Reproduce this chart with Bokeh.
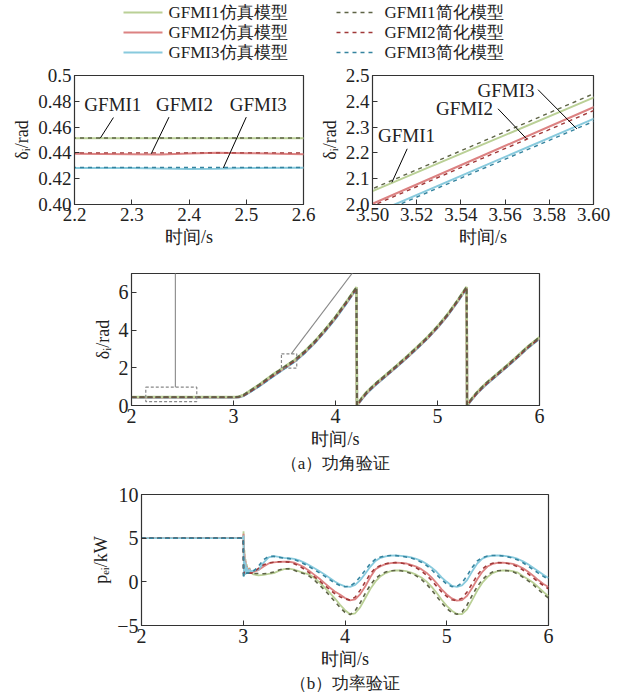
from bokeh.plotting import figure
from bokeh.models import Range1d, FixedTicker, Arrow, Title
from bokeh.layouts import column, row
from bokeh.embed import file_html
from bokeh.resources import INLINE
from bokeh.core.properties import value

FONT = "Liberation Serif"

# ---------------- data: power angle (rad) ----------------
t_delta = [2.0, 2.2, 2.3, 2.35, 2.4, 2.45, 2.5, 2.6, 2.8, 3.0,
           3.05, 3.1, 3.15, 3.2, 3.25, 3.3, 3.35, 3.4, 3.45, 3.5, 3.55, 3.6,
           3.7, 3.8, 3.9, 4.0, 4.1, 4.2, 4.205,
           4.21, 4.25, 4.3, 4.35, 4.4, 4.5, 4.6, 4.7, 4.8, 4.9, 5.0, 5.1, 5.2, 5.28, 5.285,
           5.29, 5.33, 5.38, 5.43, 5.48, 5.58, 5.68, 5.78, 5.88, 6.0]
d1_sim = [0.4514, 0.4514, 0.4514, 0.4514, 0.4513, 0.4514, 0.4514, 0.4514, 0.4514, 0.4514,
          0.46, 0.56, 0.74, 0.92, 1.10, 1.30, 1.50, 1.69, 1.87, 2.052, 2.233, 2.414,
          2.88, 3.42, 4.04, 4.70, 5.45, 6.22, 6.28,
          0.02, 0.35, 0.68, 0.95, 1.20, 1.66, 2.12, 2.60, 3.10, 3.62, 4.20, 4.85, 5.60, 6.25, 6.28,
          0.02, 0.33, 0.66, 0.94, 1.20, 1.66, 2.12, 2.60, 3.10, 3.62]
d2_sim = [0.4393, 0.4393, 0.4390, 0.4388, 0.4395, 0.4402, 0.4398, 0.4390, 0.4395, 0.4395,
          0.45, 0.54, 0.71, 0.88, 1.06, 1.25, 1.45, 1.64, 1.82, 2.003, 2.19, 2.377,
          2.84, 3.38, 4.00, 4.66, 5.41, 6.18, 6.26,
          0.0, 0.31, 0.64, 0.91, 1.16, 1.62, 2.08, 2.56, 3.06, 3.58, 4.16, 4.81, 5.56, 6.21, 6.27,
          0.0, 0.30, 0.62, 0.90, 1.16, 1.62, 2.08, 2.56, 3.06, 3.58]
d3_sim = [0.4283, 0.4283, 0.4283, 0.4280, 0.4276, 0.4278, 0.4283, 0.4285, 0.4285, 0.4285,
          0.44, 0.52, 0.68, 0.85, 1.02, 1.21, 1.41, 1.60, 1.78, 1.963, 2.148, 2.332,
          2.80, 3.34, 3.96, 4.62, 5.37, 6.15, 6.25,
          0.0, 0.28, 0.61, 0.88, 1.13, 1.59, 2.05, 2.53, 3.03, 3.55, 4.13, 4.78, 5.53, 6.18, 6.26,
          0.0, 0.27, 0.60, 0.87, 1.13, 1.59, 2.05, 2.53, 3.03, 3.55]
d1_simp = [0.4516, 0.4516, 0.4516, 0.4516, 0.4516, 0.4516, 0.4516, 0.4516, 0.4516, 0.4516,
           0.47, 0.57, 0.75, 0.93, 1.11, 1.31, 1.51, 1.70, 1.88, 2.061, 2.245, 2.429,
           2.90, 3.44, 4.06, 4.72, 5.47, 6.24, 6.28,
           0.03, 0.36, 0.69, 0.96, 1.21, 1.67, 2.13, 2.61, 3.11, 3.63, 4.21, 4.86, 5.62, 6.26, 6.28,
           0.03, 0.34, 0.67, 0.95, 1.21, 1.67, 2.13, 2.61, 3.11, 3.63]
d2_simp = [0.4400, 0.4400, 0.4400, 0.4400, 0.4400, 0.4400, 0.4400, 0.4400, 0.4400, 0.4400,
           0.45, 0.53, 0.70, 0.87, 1.05, 1.24, 1.44, 1.63, 1.81, 1.995, 2.18, 2.364,
           2.83, 3.37, 3.99, 4.65, 5.40, 6.17, 6.26,
           0.0, 0.30, 0.63, 0.90, 1.15, 1.61, 2.07, 2.55, 3.05, 3.57, 4.15, 4.80, 5.55, 6.20, 6.27,
           0.0, 0.29, 0.61, 0.89, 1.15, 1.61, 2.07, 2.55, 3.05, 3.57]
d3_simp = [0.4287, 0.4287, 0.4287, 0.4287, 0.4287, 0.4287, 0.4287, 0.4287, 0.4287, 0.4287,
           0.44, 0.51, 0.67, 0.84, 1.01, 1.20, 1.40, 1.59, 1.77, 1.955, 2.139, 2.322,
           2.79, 3.33, 3.95, 4.61, 5.36, 6.14, 6.25,
           0.0, 0.27, 0.60, 0.87, 1.12, 1.58, 2.04, 2.52, 3.02, 3.54, 4.12, 4.77, 5.52, 6.17, 6.26,
           0.0, 0.26, 0.59, 0.86, 1.12, 1.58, 2.04, 2.52, 3.02, 3.54]

# ---------------- data: electrical power (kW) ----------------
t_p = [2.0, 2.99, 3.0, 3.003, 3.007, 3.012, 3.017, 3.022, 3.028, 3.035, 3.045, 3.06, 3.08,
       3.10, 3.15, 3.20, 3.25, 3.30, 3.35, 3.40, 3.45, 3.50, 3.55, 3.60, 3.65, 3.70, 3.75,
       3.80, 3.85, 3.90, 3.95, 4.00, 4.05, 4.10, 4.15, 4.20, 4.25, 4.30, 4.35, 4.40, 4.45,
       4.50, 4.55, 4.60, 4.65, 4.70, 4.75, 4.80, 4.85, 4.90, 4.95, 5.00, 5.05, 5.10, 5.15,
       5.20, 5.25, 5.30, 5.35, 5.40, 5.45, 5.50, 5.55, 5.60, 5.65, 5.70, 5.75, 5.80, 5.85,
       5.90, 5.95, 6.00]
p1_sim = [5.0, 5.0, 5.0, 5.8, 2.0, 3.6, 1.0, 2.6, 0.9, 2.0, 1.0, 1.6, 1.0,
          0.85, 0.75, 0.80, 0.90, 1.00, 1.25, 1.45, 1.50, 1.40, 1.20, 1.00, 0.85, 0.45, -0.10,
          -0.65, -1.25, -1.90, -2.60, -3.25, -3.72, -3.60, -2.90, -1.85, -0.80, 0.05, 0.65, 1.00, 1.22,
          1.30, 1.30, 1.22, 1.05, 0.82, 0.50, 0.05, -0.55, -1.25, -2.05, -2.75, -3.30, -3.68, -3.70,
          -3.15, -2.10, -1.00, -0.10, 0.55, 1.00, 1.22, 1.30, 1.30, 1.22, 1.05, 0.65, 0.30, -0.10,
          -0.60, -1.15, -1.65]
p2_sim = [5.0, 5.0, 5.0, 5.5, 1.8, 3.2, 1.2, 2.4, 1.0, 1.8, 1.1, 1.5, 1.1,
          1.15, 1.35, 1.75, 2.10, 2.22, 2.28, 2.30, 2.30, 2.20, 1.95, 1.65, 1.25, 0.80, 0.35,
          -0.15, -0.65, -1.10, -1.45, -1.85, -2.12, -2.00, -1.40, -0.50, 0.55, 1.45, 1.80, 2.02, 2.15,
          2.20, 2.18, 2.10, 1.95, 1.75, 1.45, 1.05, 0.50, -0.15, -0.85, -1.45, -1.90, -2.15, -2.10,
          -1.60, -0.70, 0.30, 1.15, 1.75, 2.05, 2.18, 2.20, 2.15, 2.05, 1.85, 1.55, 1.15, 0.70,
          0.20, -0.25, -0.60]
p3_sim = [5.0, 5.0, 5.0, 5.3, 0.6, 2.8, 0.8, 2.2, 1.0, 1.7, 1.0, 1.4, 1.2,
          1.30, 1.40, 2.20, 2.80, 2.95, 2.85, 2.75, 2.70, 2.62, 2.45, 2.20, 1.90, 1.55, 1.20,
          0.85, 0.45, 0.05, -0.30, -0.52, -0.58, -0.35, 0.20, 0.95, 1.75, 2.40, 2.75, 2.92, 3.00,
          3.02, 2.98, 2.90, 2.80, 2.62, 2.40, 2.08, 1.65, 1.15, 0.50, 0.00, -0.45, -0.58, -0.40,
          0.20, 1.20, 2.10, 2.65, 2.90, 3.00, 3.03, 3.00, 2.92, 2.80, 2.62, 2.35, 2.00, 1.60,
          1.20, 0.80, 0.45]
p1_simp = [5.0, 5.0, 5.0, 0.7, 0.8, 1.0, 1.0, 1.0, 1.0, 1.0, 1.0, 1.0, 0.98,
           0.95, 0.95, 0.92, 0.98, 1.12, 1.35, 1.50, 1.48, 1.32, 1.10, 0.92, 0.65, 0.18, -0.38,
           -0.95, -1.58, -2.25, -2.92, -3.50, -3.75, -3.30, -2.40, -1.30, -0.35, 0.38, 0.85, 1.12, 1.27,
           1.30, 1.27, 1.15, 0.95, 0.68, 0.28, -0.25, -0.90, -1.65, -2.40, -3.05, -3.52, -3.72, -3.45,
           -2.65, -1.55, -0.55, 0.25, 0.80, 1.12, 1.27, 1.30, 1.27, 1.15, 0.90, 0.52, 0.12, -0.32,
           -0.88, -1.40, -1.85]
p2_simp = [5.0, 5.0, 5.0, 0.9, 1.0, 1.1, 1.1, 1.1, 1.1, 1.1, 1.05, 1.0, 1.0,
           1.05, 1.55, 1.95, 2.18, 2.25, 2.30, 2.30, 2.26, 2.08, 1.80, 1.45, 1.02, 0.58, 0.10,
           -0.40, -0.90, -1.35, -1.70, -1.95, -2.10, -1.75, -0.95, 0.00, 0.95, 1.60, 1.88, 2.08, 2.18,
           2.20, 2.15, 2.03, 1.85, 1.60, 1.25, 0.78, 0.18, -0.50, -1.15, -1.68, -2.05, -2.15, -1.88,
           -1.15, -0.20, 0.75, 1.48, 1.92, 2.12, 2.20, 2.18, 2.10, 1.95, 1.70, 1.35, 0.92, 0.45,
           -0.02, -0.42, -0.80]
p3_simp = [5.0, 5.0, 5.0, 0.6, 0.7, 0.8, 0.85, 0.9, 0.95, 1.0, 1.0, 1.05, 1.1,
           1.20, 1.80, 2.55, 2.90, 2.92, 2.80, 2.72, 2.66, 2.55, 2.33, 2.05, 1.72, 1.38, 1.02,
           0.65, 0.25, -0.13, -0.42, -0.57, -0.50, -0.08, 0.58, 1.35, 2.10, 2.60, 2.85, 2.97, 3.02,
           3.00, 2.94, 2.85, 2.72, 2.52, 2.25, 1.88, 1.40, 0.82, 0.25, -0.25, -0.55, -0.52, -0.10,
           0.70, 1.65, 2.40, 2.78, 2.95, 3.02, 3.02, 2.96, 2.86, 2.72, 2.50, 2.18, 1.80, 1.40,
           1.00, 0.62, 0.30]

# ---------------- labels / ticks ----------------
sim_names = ["GFMI1仿真模型", "GFMI2仿真模型", "GFMI3仿真模型"]
simp_names = ["GFMI1简化模型", "GFMI2简化模型", "GFMI3简化模型"]
tag_names = ["GFMI1", "GFMI2", "GFMI3"]

tl_xticks = [2.2, 2.3, 2.4, 2.5, 2.6]
tl_xlabels = ["2.2", "2.3", "2.4", "2.5", "2.6"]
tl_yticks = [0.40, 0.42, 0.44, 0.46, 0.48, 0.50]
tl_ylabels = ["0.40", "0.42", "0.44", "0.46", "0.48", "0.5"]
tr_xticks = [3.50, 3.52, 3.54, 3.56, 3.58, 3.60]
tr_xlabels = ["3.50", "3.52", "3.54", "3.56", "3.58", "3.60"]
tr_yticks = [2.0, 2.1, 2.2, 2.3, 2.4, 2.5]
tr_ylabels = ["2.0", "2.1", "2.2", "2.3", "2.4", "2.5"]
m_xticks = [2, 3, 4, 5, 6]
m_xlabels = ["2", "3", "4", "5", "6"]
m_yticks = [0, 2, 4, 6]
m_ylabels = ["0", "2", "4", "6"]
b_yticks = [-5, 0, 5, 10]
b_ylabels = ["\u22125", "0", "5", "10"]

# annotation tags in insets (label x, label y, leader x0, y0, x1, y1)
tl_tag_x = [2.267, 2.392, 2.521]
tl_tag_y = [0.4779, 0.4779, 0.4779]
tl_lead_x0 = [2.245, 2.334, 2.460]
tl_lead_y0 = [0.4514, 0.4393, 0.4284]
tl_lead_x1 = [2.268, 2.365, 2.500]
tl_lead_y1 = [0.4674, 0.4677, 0.4677]
tr_tag_x = [3.5154, 3.5416, 3.5604]
tr_tag_y = [2.267, 2.371, 2.442]
tr_lead_x0 = [3.5088, 3.5697, 3.5925]
tr_lead_y0 = [2.086, 2.255, 2.293]
tr_lead_x1 = [3.5157, 3.5568, 3.5749]
tr_lead_y1 = [2.216, 2.371, 2.445]

# zoom boxes in main plot and connector ends
box_left = [2.14, 3.47]
box_right = [2.64, 3.62]
box_bottom = [0.21, 1.98]
box_top = [0.97, 2.74]
conn_x0 = [2.43, 3.566]
conn_y0 = [0.97, 2.74]
conn_x1 = [2.43, 4.31]
conn_y1 = [8.1, 8.06]

SIM_COL = ["#bad096", "#dc8282", "#88cadd"]
SIMP_COL = ["#5e6446", "#a13838", "#35849f"]

# legend strip layout (pixel positions inside the strip)
LEG_ROW_Y = [12, 32, 52]
LEG_SIM_X = (123, 162, 168)
LEG_SIMP_X = (336, 374, 384)


def style(p, xt, xl, yt, yl, tick_size="19px"):
    p.xaxis.ticker = FixedTicker(ticks=xt)
    p.xaxis.major_label_overrides = dict(zip(xt, xl))
    p.yaxis.ticker = FixedTicker(ticks=yt)
    p.yaxis.major_label_overrides = dict(zip(yt, yl))
    for ax in (p.xaxis[0], p.yaxis[0]):
        ax.major_tick_in = 5
        ax.major_tick_out = 0
        ax.major_tick_line_color = "#333333"
        ax.minor_tick_line_color = None
        ax.axis_line_color = "#333333"
        ax.major_label_text_font = FONT
        ax.major_label_text_font_size = tick_size
        ax.major_label_text_color = "#222222"
        ax.axis_label_text_font = FONT
        ax.axis_label_text_font_style = "normal"
        ax.axis_label_text_font_size = "18px"
        ax.axis_label_text_color = "#222222"
        ax.major_label_standoff = 3
        ax.axis_label_standoff = 3
    p.xgrid.visible = False
    p.ygrid.visible = False
    p.outline_line_color = "#333333"
    p.outline_line_alpha = 1.0
    p.outline_line_width = 1.2
    p.background_fill_color = "white"
    p.border_fill_color = "white"


def draw_delta(p, w_sim, w_simp, dash, order):
    sims = [d1_sim, d2_sim, d3_sim]
    simps = [d1_simp, d2_simp, d3_simp]
    for i in order:
        p.line(t_delta, sims[i], line_color=SIM_COL[i], line_width=w_sim)
    for i in order:
        p.line(t_delta, simps[i], line_color=SIMP_COL[i], line_width=w_simp, line_dash=dash)


# ---------------- legend strip ----------------
pl = figure(width=629, height=64, x_range=Range1d(0, 629), y_range=Range1d(64, 0),
            x_axis_type=None, y_axis_type=None, output_backend="svg", toolbar_location=None,
            min_border=0, min_border_left=0, min_border_right=0, min_border_top=0, min_border_bottom=0)
pl.outline_line_color = None
for i in range(3):
    pl.segment([LEG_SIM_X[0]], [LEG_ROW_Y[i]], [LEG_SIM_X[1]], [LEG_ROW_Y[i]],
               line_color=SIM_COL[i], line_width=2)
    pl.segment([LEG_SIMP_X[0]], [LEG_ROW_Y[i]], [LEG_SIMP_X[1]], [LEG_ROW_Y[i]],
               line_color=SIMP_COL[i], line_width=1.6, line_dash="4 4")
pl.text([LEG_SIM_X[2]] * 3, LEG_ROW_Y, text=sim_names, text_align="left", text_baseline="middle",
        text_font=value(FONT), text_font_size="17px", text_color="#222222")
pl.text([LEG_SIMP_X[2]] * 3, LEG_ROW_Y, text=simp_names, text_align="left", text_baseline="middle",
        text_font=value(FONT), text_font_size="17px", text_color="#222222")

# ---------------- top-left inset ----------------
pa = figure(width=316, height=188, x_range=Range1d(2.2, 2.6), y_range=Range1d(0.40, 0.50),
            output_backend="svg", toolbar_location=None,
            min_border_left=74, min_border_right=13, min_border_top=11, min_border_bottom=48)
style(pa, tl_xticks, tl_xlabels, tl_yticks, tl_ylabels)
pa.xaxis.axis_label = "时间/s"
pa.yaxis.axis_label = "δᵢ/rad"
draw_delta(pa, 2.0, 1.4, "4 4", [0, 1, 2])
pa.segment(tl_lead_x0, tl_lead_y0, tl_lead_x1, tl_lead_y1, line_color="black", line_width=1)
pa.text(tl_tag_x, tl_tag_y, text=tag_names, text_align="center", text_baseline="middle",
        text_font=value(FONT), text_font_size="19px", text_color="#222222")

# ---------------- top-right inset ----------------
pb = figure(width=313, height=188, x_range=Range1d(3.5, 3.6), y_range=Range1d(2.0, 2.5),
            output_backend="svg", toolbar_location=None,
            min_border_left=50, min_border_right=36, min_border_top=11, min_border_bottom=48)
style(pb, tr_xticks, tr_xlabels, tr_yticks, tr_ylabels)
pb.xaxis.axis_label = "时间/s"
pb.yaxis.axis_label = "δᵢ/rad"
draw_delta(pb, 2.0, 1.4, "4 4", [0, 1, 2])
pb.segment(tr_lead_x0, tr_lead_y0, tr_lead_x1, tr_lead_y1, line_color="black", line_width=1)
pb.text(tr_tag_x, tr_tag_y, text=tag_names, text_align="center", text_baseline="middle",
        text_font=value(FONT), text_font_size="19px", text_color="#222222")

# ---------------- main delta plot ----------------
pm = figure(width=629, height=226, x_range=Range1d(2, 6), y_range=Range1d(0, 7),
            output_backend="svg", toolbar_location=None,
            min_border_left=131, min_border_right=90, min_border_top=21, min_border_bottom=73)
style(pm, m_xticks, m_xlabels, m_yticks, m_ylabels, tick_size="20px")
pm.xaxis.axis_label = "时间/s"
pm.yaxis.axis_label = "δᵢ/rad"
draw_delta(pm, 2.6, 1.6, "5 3", [2, 1, 0])
pm.quad(left=box_left, right=box_right, bottom=box_bottom, top=box_top,
        fill_alpha=0, line_color="#888888", line_dash="3 2", line_width=1.2)
for i in range(2):
    pm.add_layout(Arrow(end=None, x_start=conn_x0[i], y_start=conn_y0[i],
                        x_end=conn_x1[i], y_end=conn_y1[i],
                        line_color="#888888", line_width=1.1))
pm.add_layout(Title(text="（a）功角验证", align="center", text_font=FONT, standoff=0,
                    text_font_size="17px", text_font_style="normal", text_color="#222222"), "below")

# ---------------- bottom power plot ----------------
pp = figure(width=629, height=221, x_range=Range1d(2, 6), y_range=Range1d(-5, 10),
            output_backend="svg", toolbar_location=None,
            min_border_left=141, min_border_right=81, min_border_top=16, min_border_bottom=74)
style(pp, m_xticks, m_xlabels, b_yticks, b_ylabels, tick_size="20px")
pp.xaxis.axis_label = "时间/s"
pp.yaxis.axis_label = "pₑᵢ/kW"
p_sims = [p1_sim, p2_sim, p3_sim]
p_simps = [p1_simp, p2_simp, p3_simp]
for i in range(3):
    pp.line(t_p, p_sims[i], line_color=SIM_COL[i], line_width=1.8)
for i in range(3):
    pp.line(t_p, p_simps[i], line_color=SIMP_COL[i], line_width=1.6, line_dash="4 4")
pp.add_layout(Title(text="（b）功率验证", align="center", text_font=FONT, standoff=0,
                    text_font_size="17px", text_font_style="normal", text_color="#222222"), "below")

layout = column(row(pl), row(pa, pb, spacing=0), row(pm), row(pp), spacing=0)
open("out.html", "w").write(file_html(layout, INLINE))
